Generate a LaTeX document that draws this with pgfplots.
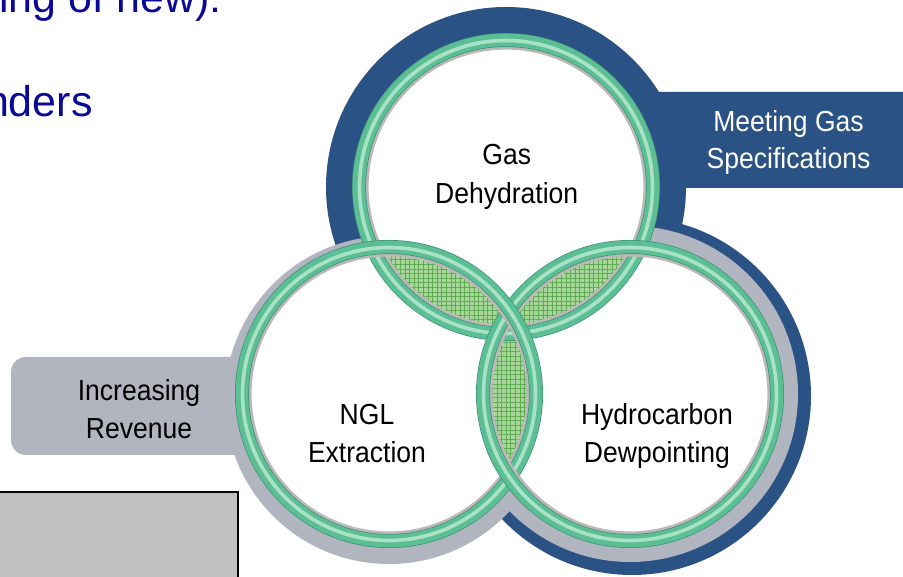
\documentclass[border=0pt]{standalone}
\usepackage{pgfplots}
\pgfplotsset{compat=1.18}
\usetikzlibrary{patterns.meta}
\usepackage{fontspec}
\setmainfont{Liberation Sans}
\newfontfamily\lbl[FakeStretch=0.915]{Liberation Sans}
\definecolor{navy}{HTML}{2A5285}
\definecolor{disk}{HTML}{B1B5BF}
\definecolor{boxgray}{HTML}{C0C0C0}
\definecolor{txtblue}{HTML}{0A0A96}
\definecolor{ringedge}{HTML}{3E8F7C}
\definecolor{ringbody}{HTML}{5CBF94}
\definecolor{ringhi}{HTML}{A9E2C7}
\definecolor{ringshadow}{HTML}{BDB8B8}
\definecolor{lensfill}{HTML}{A6D699}
\definecolor{lensgrid}{HTML}{5FAA52}

\newcommand\ringat[2]{%
  \draw[line width=1.6pt, ringshadow] (axis cs:#1,#2) circle[radius=139];
  \draw[line width=7pt, ringedge] (axis cs:#1,#2) circle[radius=147];
  \draw[line width=6.3pt, ringbody] (axis cs:#1,#2) circle[radius=147];
  \draw[line width=1.8pt, ringhi] (axis cs:#1,#2) circle[radius=146.5];
}
\newcommand\lens[4]{%
  \begin{scope}
    \clip (axis cs:#1,#2) circle[radius=147];
    \fill[lensfill] (axis cs:#3,#4) circle[radius=147];
    \fill[pattern={Lines[distance=2.3pt,angle=0,line width=0.25pt]}, pattern color=lensgrid] (axis cs:#3,#4) circle[radius=147];
    \fill[pattern={Lines[distance=2.3pt,angle=90,line width=0.25pt]}, pattern color=lensgrid] (axis cs:#3,#4) circle[radius=147];
  \end{scope}
}

\begin{document}
\begin{tikzpicture}
\begin{axis}[width=451.5pt, height=288.5pt, scale only axis,
  xmin=0, xmax=903, ymin=0, ymax=577, axis lines=none, clip=true]
% blue slide text (cut by the frame, as in the reference)
\node[anchor=base east, inner sep=0, text=txtblue, font=\fontsize{21.5}{26}\selectfont] at (axis cs:222,564) {ing of new):};
\node[anchor=base east, inner sep=0, text=txtblue, font=\fontsize{21.5}{26}\selectfont] at (axis cs:93,460) {nders};
% navy backgrounds
\fill[navy] (axis cs:506,390) circle[radius=180];
\fill[navy] (axis cs:632,181) circle[radius=179];
\addplot[fill=navy, draw=none, mark=none] coordinates {(600,389) (910,389) (910,485) (600,485) (600,389)};
% gray backgrounds
\fill[disk] (axis cs:389,177) circle[radius=164];
\fill[disk] (axis cs:630,183) circle[radius=168];
\fill[disk, rounded corners=7.5pt] (axis cs:11,122) rectangle (axis cs:300,220);
% bottom-left box
\addplot[fill=boxgray, draw=black, line width=0.8pt, mark=none] coordinates {(-10,-10) (238,-10) (238,85) (-10,85) (-10,-10)};
% white interiors
\fill[white] (axis cs:506,390) circle[radius=147];
\fill[white] (axis cs:389,183) circle[radius=147];
\fill[white] (axis cs:630,183) circle[radius=147];
% lens fills
\lens{506}{390}{389}{183}
\lens{506}{390}{630}{183}
\lens{389}{183}{630}{183}
% rings
\ringat{506}{390}
\ringat{630}{183}
\ringat{389}{183}
\begin{scope}
  \clip (axis cs:470,66) rectangle (axis cs:549,131);
  \ringat{630}{183}
\end{scope}
% labels
\node[anchor=base, inner sep=0, font=\lbl\fontsize{14.5}{19}\selectfont] at (axis cs:506.7,412) {Gas};
\node[anchor=base, inner sep=0, font=\lbl\fontsize{14.5}{19}\selectfont] at (axis cs:506.7,373) {Dehydration};
\node[anchor=base, inner sep=0, font=\lbl\fontsize{14.5}{19}\selectfont] at (axis cs:367,152) {NGL};
\node[anchor=base, inner sep=0, font=\lbl\fontsize{14.5}{19}\selectfont] at (axis cs:367,114) {Extraction};
\node[anchor=base, inner sep=0, font=\lbl\fontsize{14.5}{19}\selectfont] at (axis cs:657,152) {Hydrocarbon};
\node[anchor=base, inner sep=0, font=\lbl\fontsize{14.5}{19}\selectfont] at (axis cs:657,114) {Dewpointing};
\node[anchor=base, inner sep=0, font=\lbl\fontsize{14.5}{19}\selectfont] at (axis cs:139,176) {Increasing};
\node[anchor=base, inner sep=0, font=\lbl\fontsize{14.5}{19}\selectfont] at (axis cs:139,138) {Revenue};
\node[anchor=base, inner sep=0, text=white, font=\lbl\fontsize{14.5}{19}\selectfont] at (axis cs:788.5,445.3) {Meeting Gas};
\node[anchor=base, inner sep=0, text=white, font=\lbl\fontsize{14.5}{19}\selectfont] at (axis cs:788.5,408) {Specifications};
\end{axis}
\pgfresetboundingbox
\useasboundingbox (current axis.south west) rectangle (current axis.north east);
\end{tikzpicture}
\end{document}
